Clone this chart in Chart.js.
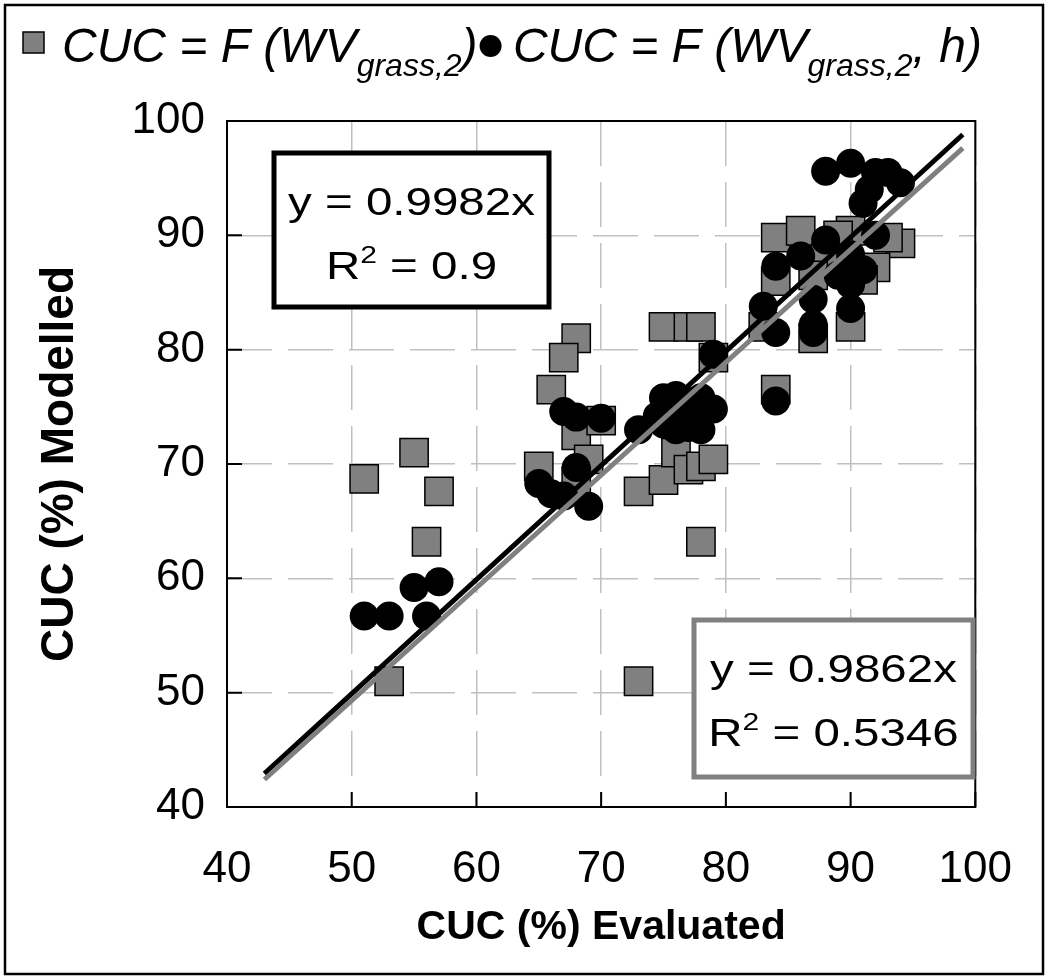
<!DOCTYPE html>
<html>
<head>
<meta charset="utf-8">
<script src="https://cdn.jsdelivr.net/npm/chart.js@4.4.1/dist/chart.umd.min.js"></script>
<style>
  body { margin: 0; background: #fff; }
</style>
</head>
<body>
<canvas id="myChart" width="1048" height="979"></canvas>
<script>
// series 1: CUC = F(WVgrass,2)  (grey squares)
const squareX = [51, 55, 57, 56, 53, 73, 78, 68, 67, 66, 75, 77, 78, 79, 68, 70, 69, 65, 68, 73, 75, 76, 77, 78, 79,
  84, 86, 90, 94, 93, 92, 91, 84, 87, 90, 83, 84, 89, 88, 87];
const squareY = [68.7, 71, 67.6, 63.2, 51, 51, 63.2, 81, 79.3, 76.5, 82, 82, 82, 79.3, 72.5, 73.8, 70.4, 69.8, 68.5, 67.6, 68.6, 71, 69.5, 69.8, 70.4,
  89.8, 90.4, 90.4, 89.3, 89.8, 87.2, 86.1, 86, 81, 82, 82, 76.5, 90, 88, 86.5];

// series 2: CUC = F(WVgrass,2, h)  (black circles)
const circleX = [51, 53, 55, 57, 56, 65, 66, 67, 68, 69, 67, 68, 70, 73,
  74.5, 75, 76, 77, 78, 79, 75, 76, 77, 78, 76.5, 78,
  79, 84, 83, 84, 84, 86, 88, 87, 87, 87, 90, 90, 91, 90, 89, 92, 91, 88, 90, 92, 93, 94, 91.5];
const circleY = [56.7, 56.7, 59.2, 59.7, 56.7, 68.3, 67.4, 67.2, 69.7, 66.3, 74.6, 74.1, 74, 73,
  74.2, 75.8, 76, 75.5, 75.8, 74.8, 73.5, 73, 73.2, 73, 74.5, 74.2,
  79.6, 75.5, 83.8, 81.5, 87.3, 88.2, 89.6, 84.4, 82.2, 81.5, 83.6, 85.7, 87, 88.3, 86.5, 90, 92.8, 95.6, 96.3, 95.5, 95.5, 94.6, 94];

// linear fits through origin
const fitCircle = { slope: 0.9982, r2: "0.9" };
const fitSquare = { slope: 0.9862, r2: "0.5346" };
const fitRange = [43, 99];

const xTicks = [40, 50, 60, 70, 80, 90, 100];
const yTicks = [40, 50, 60, 70, 80, 90, 100];

const toPoints = (xs, ys) => xs.map((v, i) => ({ x: v, y: ys[i] }));
const fitLine = (f) => fitRange.map(v => ({ x: v, y: f.slope * v }));

const FONT = "'Liberation Sans', Arial, sans-serif";

// draw a run of text pieces (optionally stretched horizontally)
function runWidth(ctx, parts, sx) {
  let w = 0;
  parts.forEach(p => { ctx.font = p.font; w += ctx.measureText(p.t).width * sx; });
  return w;
}
function drawRun(ctx, parts, x, y, sx) {
  parts.forEach(p => {
    ctx.save();
    ctx.font = p.font;
    ctx.translate(x, y + (p.dy || 0));
    ctx.scale(sx, 1);
    ctx.fillText(p.t, 0, 0);
    ctx.restore();
    ctx.font = p.font;
    x += ctx.measureText(p.t).width * sx;
  });
  return x;
}

function eqBox(ctx, f, box, color) {
  ctx.save();
  ctx.fillStyle = "#fff";
  ctx.fillRect(box.x, box.y, box.w, box.h);
  ctx.lineWidth = 5;
  ctx.strokeStyle = color;
  ctx.strokeRect(box.x, box.y, box.w, box.h);
  ctx.fillStyle = "#000";
  ctx.textBaseline = "alphabetic";
  const big = "38px " + FONT, small = "24px " + FONT;
  const l1 = [{ t: "y = " + f.slope + "x", font: big }];
  const l2 = [{ t: "R", font: big }, { t: "2", font: small, dy: -16 }, { t: " = " + f.r2, font: big }];
  const cx = box.x + box.w / 2;
  drawRun(ctx, l1, cx - runWidth(ctx, l1, 1.25) / 2, box.y + 62, 1.25);
  drawRun(ctx, l2, cx - runWidth(ctx, l2, 1.25) / 2, box.y + 126, 1.25);
  ctx.restore();
}

const decor = {
  id: "decor",
  beforeDatasetsDraw(chart) {
    const { ctx, chartArea: a, scales: { x, y } } = chart;
    ctx.save();
    ctx.strokeStyle = "#000";
    ctx.lineWidth = 2;
    ctx.beginPath();
    xTicks.forEach(v => {
      const px = x.getPixelForValue(v);
      ctx.moveTo(px, a.bottom);
      ctx.lineTo(px, a.bottom - 15);
    });
    yTicks.forEach(v => {
      const py = y.getPixelForValue(v);
      ctx.moveTo(a.left, py);
      ctx.lineTo(a.left + 15, py);
    });
    ctx.stroke();
    ctx.strokeRect(a.left, a.top, a.right - a.left, a.bottom - a.top);
    ctx.restore();
  },
  afterDraw(chart) {
    const { ctx, chartArea: a } = chart;
    ctx.save();
    // outer frame
    ctx.strokeStyle = "#000";
    ctx.lineWidth = 2.5;
    ctx.strokeRect(5, 5, chart.width - 10, chart.height - 10);

    // legend
    const it = "italic 48px " + FONT, sub = "italic 32px " + FONT;
    ctx.fillStyle = "#808080";
    ctx.lineWidth = 1.5;
    ctx.fillRect(23, 32, 21, 21);
    ctx.strokeRect(23, 32, 21, 21);
    ctx.fillStyle = "#000";
    const xEnd = drawRun(ctx, [
      { t: "CUC = F (WV", font: it },
      { t: "grass,2", font: sub, dy: 14 },
      { t: ")", font: it }
    ], 62, 62, 1);
    ctx.beginPath();
    ctx.arc(xEnd + 13, 46, 11, 0, Math.PI * 2);
    ctx.fill();
    drawRun(ctx, [
      { t: " CUC = F (WV", font: it },
      { t: "grass,2", font: sub, dy: 14 },
      { t: ", h)", font: it }
    ], xEnd + 22, 62, 1);

    // regression boxes
    eqBox(ctx, fitCircle, { x: a.left + 47, y: a.top + 32, w: 275, h: 154 }, "#000");
    eqBox(ctx, fitSquare, { x: a.left + 467, y: a.top + 499, w: 279, h: 157 }, "#808080");
    ctx.restore();
  }
};

const ctx = document.querySelector("#myChart");

const myChart = new Chart(ctx, {
  type: "scatter",
  data: {
    datasets: [
      {
        label: "CUC = F (WVgrass,2, h)",
        data: toPoints(circleX, circleY),
        pointStyle: "circle",
        pointRadius: 14.5,
        backgroundColor: "#000",
        borderColor: "#000",
        borderWidth: 0,
        order: 1,
      },
      {
        label: "CUC = F (WVgrass,2)",
        data: toPoints(squareX, squareY),
        pointStyle: "rect",
        pointRadius: 20,
        backgroundColor: "#808080",
        borderColor: "#000",
        borderWidth: 1.5,
        order: 2,
      },
      {
        label: "fit h",
        data: fitLine(fitCircle),
        showLine: true,
        pointRadius: 0,
        borderColor: "#000",
        borderWidth: 5,
        order: -1,
      },
      {
        label: "fit",
        data: fitLine(fitSquare),
        showLine: true,
        pointRadius: 0,
        borderColor: "#808080",
        borderWidth: 5,
        order: -2,
      },
    ],
  },
  options: {
    responsive: false,
    animation: false,
    devicePixelRatio: 1,
    layout: {
      padding: { top: 121, right: 65, bottom: 0, left: 0 },
    },
    scales: {
      x: {
        type: "linear",
        min: 40,
        max: 100,
        afterFit: (s) => { s.height = 172; },
        afterBuildTicks: (s) => { s.ticks = xTicks.map(v => ({ value: v })); },
        grid: { color: "#c0c0c0", lineWidth: 1.5, drawTicks: false },
        border: { display: false, dash: [45, 16] },
        ticks: {
          color: "#000",
          padding: 36,
          maxRotation: 0,
          autoSkip: false,
          font: { family: FONT, size: 44 },
        },
        title: {
          display: true,
          text: "CUC (%) Evaluated",
          color: "#000",
          font: { family: FONT, size: 41, weight: "bold" },
          padding: { top: 0, bottom: 27 },
        },
      },
      y: {
        type: "linear",
        min: 40,
        max: 100,
        afterFit: (s) => { s.width = 227; },
        afterBuildTicks: (s) => { s.ticks = yTicks.map(v => ({ value: v })); },
        grid: { color: "#c0c0c0", lineWidth: 1.5, drawTicks: false },
        border: { display: false, dash: [45, 16] },
        ticks: {
          color: "#000",
          padding: 22,
          font: { family: FONT, size: 44 },
        },
        title: {
          display: true,
          text: "CUC (%) Modelled",
          color: "#000",
          font: { family: FONT, size: 46, weight: "bold" },
          padding: { top: 33, bottom: 0 },
        },
      },
    },
    plugins: {
      legend: { display: false },
      tooltip: { enabled: false },
    },
  },
  plugins: [decor],
});
</script>
</body>
</html>
